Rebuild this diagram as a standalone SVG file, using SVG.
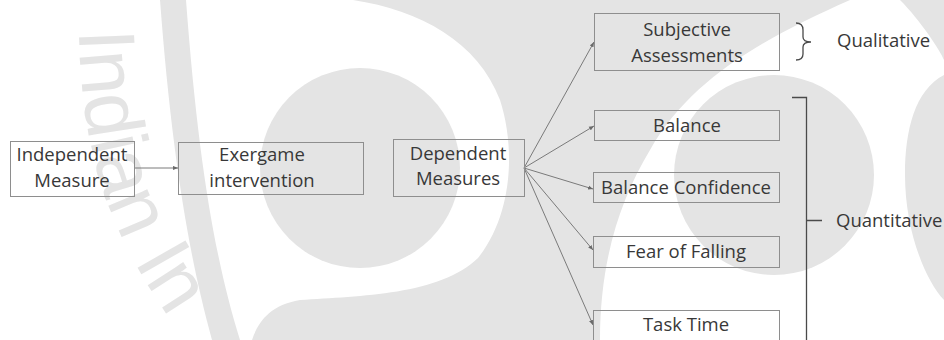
<svg xmlns="http://www.w3.org/2000/svg" width="944" height="340" viewBox="0 0 944 340">
  <style>
    .wm { fill: #e4e4e4; }
    .wh { fill: #ffffff; }
    .wmtext { font-family: "Liberation Sans", Arial, sans-serif; font-size: 80px; fill: #e4e4e4; }
    .box { fill: none; stroke: #8e8e8e; stroke-width: 1; }
    .lbl { font-family: "Open Sans", "Liberation Sans", sans-serif; font-size: 18.5px; fill: #383838; text-anchor: middle; }
    .side { font-family: "Open Sans", "Liberation Sans", sans-serif; font-size: 18.5px; fill: #383838; text-anchor: start; }
    .conn { fill: none; stroke: #7a7a7a; stroke-width: 1; marker-end: url(#ah); }
    .brk { fill: none; stroke: #4a4a4a; stroke-width: 1.3; }
  </style>
  <defs>
    <marker id="ah" viewBox="0 0 6 6" refX="6" refY="3" markerWidth="5" markerHeight="5" orient="auto" markerUnits="userSpaceOnUse">
      <path d="M0,0.5 L6,3 L0,5.5 Z" fill="#6a6a6a"/>
    </marker>
    <path id="wmPath" d="M78,0 C80,150 100,230 200,360"/>
  </defs>

  <!-- faint background emblem -->
  <g id="watermark">
    <rect width="944" height="340" fill="#ffffff"/>
    <path class="wm" d="M160,0 L944,0 L944,340 L212,340 C190,260 172,160 160,0 Z"/>
    <path class="wh" d="M186,0 L353,0 C420,10 478,42 500,100 C516,150 512,215 478,258 C440,295 360,296 300,300 C270,305 258,322 252,340 L240,340 C215,260 198,160 186,0 Z"/>
    <path class="wh" d="M600,340 C600,260 620,200 650,150 C690,80 760,40 850,0 L900,0 C920,20 940,50 944,60 L944,75 C915,90 905,130 905,175 C905,230 925,280 944,300 L944,340 Z"/>
    <circle class="wm" cx="360" cy="168" r="100"/>
    <circle class="wm" cx="774" cy="175" r="100"/>
    <text class="wmtext"><textPath href="#wmPath" startOffset="30">Indian In</textPath></text>
  </g>

  <!-- connectors -->
  <g id="connectors">
    <line class="conn" x1="134" y1="168" x2="178" y2="168"/>
    <line class="conn" x1="524" y1="168" x2="594" y2="42"/>
    <line class="conn" x1="524" y1="168" x2="594" y2="126"/>
    <line class="conn" x1="524" y1="168" x2="593" y2="189"/>
    <line class="conn" x1="524" y1="168" x2="593" y2="250"/>
    <line class="conn" x1="524" y1="168" x2="593" y2="325"/>
  </g>

  <!-- nodes -->
  <g id="independent">
    <rect class="box" x="10.5" y="141.5" width="124" height="55"/>
    <text class="lbl" x="72" y="161">Independent</text>
    <text class="lbl" x="72" y="187">Measure</text>
  </g>
  <g id="exergame">
    <rect class="box" x="178.5" y="142.5" width="185" height="52"/>
    <text class="lbl" x="262" y="161">Exergame</text>
    <text class="lbl" x="262" y="187">intervention</text>
  </g>
  <g id="dependent">
    <rect class="box" x="393.5" y="139.5" width="131" height="57"/>
    <text class="lbl" x="458" y="160">Dependent</text>
    <text class="lbl" x="458" y="185">Measures</text>
  </g>
  <g id="subjective">
    <rect class="box" x="594.5" y="13.5" width="185" height="57"/>
    <text class="lbl" x="687" y="36">Subjective</text>
    <text class="lbl" x="687" y="62">Assessments</text>
  </g>
  <g id="balance">
    <rect class="box" x="594.5" y="110.5" width="185" height="30"/>
    <text class="lbl" x="687" y="132">Balance</text>
  </g>
  <g id="balance-confidence">
    <rect class="box" x="593.5" y="172.5" width="186" height="30"/>
    <text class="lbl" x="686" y="194">Balance Confidence</text>
  </g>
  <g id="fear-of-falling">
    <rect class="box" x="593.5" y="236.5" width="186" height="31"/>
    <text class="lbl" x="686" y="258">Fear of Falling</text>
  </g>
  <g id="task-time">
    <rect class="box" x="593.5" y="310.5" width="186" height="40"/>
    <text class="lbl" x="686" y="331">Task Time</text>
  </g>

  <!-- grouping brackets -->
  <g id="qualitative">
    <path class="brk" d="M796,23 Q803,23 803,30 L803,37 Q803,42 811,42 Q803,42 803,47 L803,54 Q803,60 796,60"/>
    <text class="side" x="837" y="47">Qualitative</text>
  </g>
  <g id="quantitative">
    <path class="brk" d="M792,97.5 L806.5,97.5 L806.5,340 M806.5,220.5 L822,220.5"/>
    <text class="side" x="836" y="227">Quantitative</text>
  </g>
</svg>
